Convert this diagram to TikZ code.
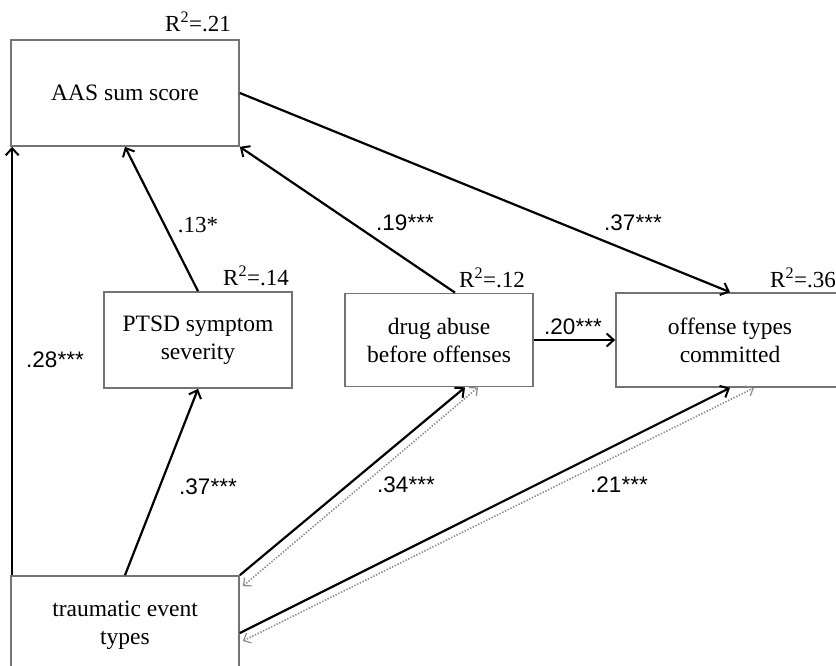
\documentclass[tikz,border=0pt]{standalone}
\usepackage{fontspec}
\setmainfont{Liberation Serif}
\newfontfamily\coeffont{Liberation Sans}
\usetikzlibrary{arrows.meta}

\begin{document}
\begin{tikzpicture}[x=1pt,y=-1pt,
  varbox/.style={draw=black!55, line width=1.7pt, align=center, inner sep=0pt,
    font=\fontsize{23.5}{28}\selectfont},
  effect/.style={line width=2.2pt, -{Straight Barb[length=7pt,width=13pt,line width=2pt]}},
  covar/.style={black!45, line width=1.6pt, dash pattern=on 1.4pt off 1.6pt,
    {Straight Barb[length=6pt,width=11pt,line width=1.2pt]}-{Straight Barb[length=6pt,width=11pt,line width=1.2pt]}},
  coef/.style={font=\coeffont\fontsize{22.5}{24}\selectfont},
  rsq/.style={font=\fontsize{23}{24}\selectfont}]
\useasboundingbox (0,0) rectangle (836,666);

% Variables
\node[varbox, minimum width=228pt, minimum height=106pt] (aas) at (125,93) {AAS sum score};
\node[varbox, minimum width=188pt, minimum height=96pt] (ptsd) at (198,340) {PTSD symptom\\severity};
\node[varbox, minimum width=188pt, minimum height=93pt] (drug) at (439,340) {drug abuse\\before offenses};
\node[varbox, minimum width=228pt, minimum height=94pt] (offense) at (730,340) {offense types\\committed};
\node[varbox, minimum width=228pt, minimum height=98pt] (trauma) at (125,625) {traumatic event\\types};

% Paths
\draw[effect] ([xshift=2pt]trauma.north west) -- ([xshift=2pt]aas.south west);
\draw[effect] (trauma.north) -- (ptsd.south);
\draw[effect] (trauma.north east) -- ([xshift=26pt]drug.south);
\draw[effect] ([yshift=-8pt]trauma.east) -- (offense.south);
\draw[effect] (ptsd.north) -- (aas.south);
\draw[effect] ([xshift=16pt]drug.north) -- (aas.south east);
\draw[effect] (aas.east) -- (offense.north);
\draw[effect] (drug.east) -- (offense.west);

% Covariances
\draw[covar] ([xshift=3pt,yshift=-11pt]trauma.north east) -- ([xshift=39pt]drug.south);
\draw[covar] ([xshift=3pt,yshift=-16pt]trauma.east) -- ([xshift=24pt]offense.south);

% Explained variance
\foreach \name/\x/\y/\val in {r21/198/22/.21, r14/256/276/.14, r12/492/278/.12, r36/803/278/.36}
  \node[rsq] (\name) at (\x,\y) {R\textsuperscript{2}=\val};

% Coefficients
\node[rsq] (c13) at (198,225) {.13*};
\foreach \name/\x/\y/\val in {c19/405/223/.19***, c37a/633/223/.37***, c20/573/327/.20***,
  c28/55/360/.28***, c37b/208/487/.37***, c34/406/485/.34***, c21/619/485/.21***}
  \node[coef] (\name) at (\x,\y) {\val};
\end{tikzpicture}
\end{document}
